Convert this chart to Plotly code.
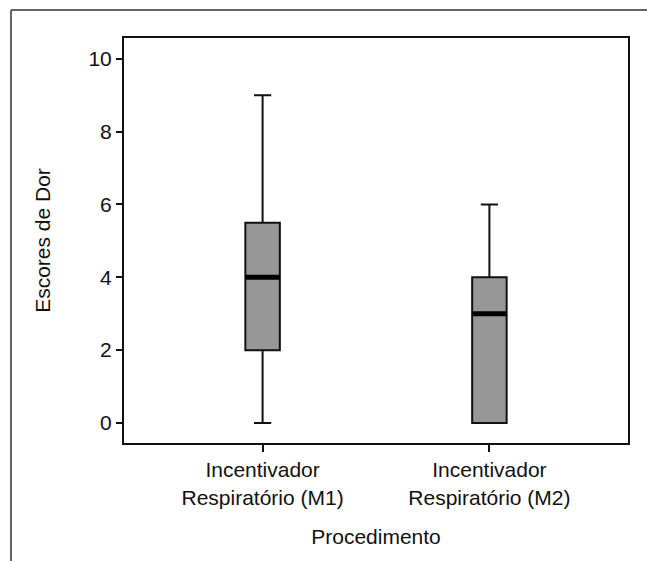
import plotly.graph_objects as go

# Pain scores per procedure (box-plot summary statistics)
procedures = ["Incentivador<br>Respiratório (M1)", "Incentivador<br>Respiratório (M2)"]
positions = [0, 1]
minimum = [0, 0]
q1 = [2, 0]
median = [4, 3]
q3 = [5.5, 4]
maximum = [9, 6]
y_ticks = [0, 2, 4, 6, 8, 10]

box_width = 0.152
font = dict(family="Liberation Sans, Arial, Helvetica, sans-serif", size=21, color="#111111")

fig = go.Figure()

fig.add_trace(go.Box(
    x=positions,
    q1=q1,
    median=median,
    q3=q3,
    lowerfence=minimum,
    upperfence=maximum,
    width=box_width,
    whiskerwidth=0.5,
    fillcolor="#979797",
    line=dict(color="#111111", width=2),
    boxpoints=False,
    showlegend=False,
    hoverinfo="skip",
))

# Heavier median bars drawn over each box
for pos, med in zip(positions, median):
    fig.add_trace(go.Scatter(
        x=[pos - box_width / 2, pos + box_width / 2],
        y=[med, med],
        mode="lines",
        line=dict(color="#000000", width=5),
        showlegend=False,
        hoverinfo="skip",
    ))

fig.update_layout(
    width=647,
    height=561,
    margin=dict(l=124, r=19, t=38, b=118),
    paper_bgcolor="white",
    plot_bgcolor="white",
    font=font,
    showlegend=False,
)

fig.update_xaxes(
    range=[-0.611, 1.611],
    tickmode="array",
    tickvals=positions,
    ticktext=procedures,
    ticks="outside",
    ticklen=7,
    tickwidth=2,
    tickcolor="#111111",
    showline=True,
    linewidth=2,
    linecolor="#111111",
    mirror=True,
    showgrid=False,
    zeroline=False,
    title=dict(text="Procedimento", font=font, standoff=22),
)

fig.update_yaxes(
    range=[-0.55, 10.57],
    tickmode="array",
    tickvals=y_ticks,
    ticks="outside",
    ticklen=6,
    tickwidth=2,
    tickcolor="#111111",
    showline=True,
    linewidth=2,
    linecolor="#111111",
    mirror=True,
    showgrid=False,
    zeroline=False,
    title=dict(text="Escores de Dor", font=font, standoff=32),
)

# Outer figure frame (top and left edges)
frame = dict(color="#333333", width=1.5)
fig.add_shape(type="line", xref="paper", yref="paper",
              x0=-0.2242, x1=1.06, y0=1.069, y1=1.069, line=frame)
fig.add_shape(type="line", xref="paper", yref="paper",
              x0=-0.2242, x1=-0.2242, y0=-0.31, y1=1.069, line=frame)

fig.write_html("out.html")
